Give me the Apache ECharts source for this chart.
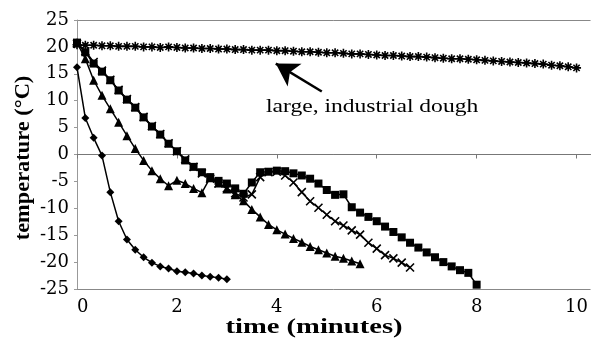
<!DOCTYPE html>
<html>
<head>
<meta charset="utf-8">
<script src="https://cdn.jsdelivr.net/npm/echarts@6/dist/echarts.min.js"></script>
<style>
html,body{margin:0;padding:0;background:#fff;}
#chart{width:591px;height:344px;}
</style>
</head>
<body>
<div id="chart"></div>
<script>
// sampling times in seconds (10 s steps)
const seconds = [0,10,20,30,40,50,60,70,80,90,100,110,120,130,140,150,160,170,180,190,200,210,220,230,240,250,260,270,280,290,300,310,320,330,340,350,360,370,380,390,400,410,420,430,440,450,460,470,480,490,500,510,520,530,540,550,560,570,580,590,600];

const xTicks = [0, 2, 4, 6, 8, 10];
const yTicks = [-25, -20, -15, -10, -5, 0, 5, 10, 15, 20, 25];

// diamond series
const diamondTemps = [16.2, 6.8, 3.1, -0.2, -7.0, -12.4, -15.8, -17.7, -19.1, -20.1, -20.8, -21.2, -21.7, -21.9, -22.1, -22.5, -22.7, -22.9, -23.2];

// triangle series
const triangleTemps = [20.8, 17.8, 13.8, 11.0, 8.5, 6.0, 3.5, 1.1, -1.1, -3.0, -4.5, -5.8, -4.8, -5.4, -6.3, -7.1, -4.3, -5.3, -6.4, -7.5, -8.6, -10.2, -11.6, -13.0, -14.0, -14.8, -15.6, -16.3, -17.1, -17.7, -18.3, -18.9, -19.3, -19.8, -20.3];

// cross series
const crossTemps = [20.6, 19.2, 17.2, 15.6, 13.9, 12.0, 10.3, 8.8, 7.0, 5.3, 3.8, 2.1, 0.6, -0.9, -2.3, -3.5, -4.5, -5.4, -6.3, -7.2, -8.0, -7.4, -4.2, -3.3, -3.2, -3.9, -5.2, -7.0, -8.7, -9.9, -11.2, -12.4, -13.2, -14.1, -14.9, -16.4, -17.5, -18.7, -19.3, -20.1, -21.0];

// square series
const squareTemps = [20.8, 19.0, 16.9, 15.4, 13.8, 11.9, 10.2, 8.7, 6.9, 5.2, 3.7, 2.0, 0.6, -1.1, -2.3, -3.3, -4.2, -4.9, -5.4, -6.3, -7.3, -5.2, -3.3, -3.2, -3.0, -3.1, -3.5, -3.9, -4.5, -5.4, -6.6, -7.5, -7.4, -9.8, -10.8, -11.6, -12.4, -13.4, -14.4, -15.4, -16.4, -17.3, -18.2, -19.1, -20.0, -20.8, -21.5, -22.0, -24.2];

// large, industrial dough (star series)
const starTemps = [20.4, 20.3, 20.3, 20.2, 20.2, 20.1, 20.1,
  20.1, 20.0, 20.0, 19.9, 20.0, 19.9,
  19.8, 19.8, 19.7, 19.7, 19.6, 19.6,
  19.5, 19.5, 19.4, 19.4, 19.4, 19.3,
  19.3, 19.2, 19.1, 19.1, 19.0, 18.9,
  18.9, 18.8, 18.7, 18.7, 18.6, 18.5,
  18.4, 18.4, 18.3, 18.2, 18.2, 18.1,
  18.0, 17.9, 17.8, 17.8, 17.7, 17.6,
  17.5, 17.4, 17.3, 17.2, 17.1, 17.0,
  16.9, 16.8, 16.6, 16.5, 16.3, 16.1];

const annotationText = 'large, industrial dough';
const arrowTail = [4.9, 11.7];
const arrowTip = [3.98, 16.9];

function pairs(temps) {
  return temps.map((v, i) => [seconds[i] / 60, v]);
}

const FONT = '"Liberation Serif", "Times New Roman", serif';
const TICKFONT = '"DejaVu Serif", serif';
const xPath = 'path://M0,0L10,10M10,0L0,10';
const starPath = 'path://M5,0L5,10M0,5L10,5M1.5,1.5L8.5,8.5M8.5,1.5L1.5,8.5';

function lineSeries(name, temps, symbol, size, stroked) {
  return {
    name: name,
    type: 'line',
    data: pairs(temps),
    symbol: symbol,
    symbolSize: size,
    showAllSymbol: true,
    animation: false,
    lineStyle: { color: '#000', width: 1.5 },
    itemStyle: stroked
      ? { color: 'rgba(0,0,0,0)', borderColor: '#000', borderWidth: 1.6 }
      : { color: '#000', borderWidth: 0 },
    z: 3
  };
}

const chart = echarts.init(document.getElementById('chart'));
const series = [
  lineSeries('diamond', diamondTemps, 'diamond', 8, false),
  lineSeries('triangle', triangleTemps, 'triangle', 9, false),
  lineSeries('cross', crossTemps, xPath, 8, true),
  lineSeries('square', squareTemps, 'rect', 8, false),
  lineSeries('star', starTemps, starPath, 9, true)
];
series[4].markLine = {
  silent: true,
  symbol: ['none', 'arrow'],
  symbolSize: [20, 22],
  label: { show: false },
  lineStyle: { color: '#000', width: 2.5, type: 'solid' },
  data: [[{ coord: arrowTail }, { coord: arrowTip }]],
  animation: false
};

chart.setOption({
  animation: false,
  backgroundColor: '#fff',
  grid: { left: 77, right: 0, top: 20, bottom: 55 },
  xAxis: {
    type: 'value',
    min: 0,
    max: 10.28,
    interval: 2,
    axisLine: { lineStyle: { color: '#777', width: 1 } },
    axisTick: { show: true, inside: false, length: 4, lineStyle: { color: '#777' } },
    splitLine: { show: false },
    axisLabel: {
      color: '#000', fontFamily: TICKFONT, fontSize: 18, margin: 9,
      formatter: v => (xTicks.indexOf(v) >= 0 ? String(v) : ''),
      alignMinLabel: 'left', showMaxLabel: false
    }
  },
  yAxis: [{
    type: 'value',
    min: -25,
    max: 25,
    interval: 5,
    axisLine: { show: true, lineStyle: { color: '#999', width: 1 } },
    axisTick: { show: true, length: 3, lineStyle: { color: '#999' } },
    splitLine: { show: false },
    axisLabel: {
      color: '#000', fontFamily: TICKFONT, fontSize: 18, margin: 8,
      formatter: v => (yTicks.indexOf(v) >= 0 ? String(v) : '')
    }
  }, {
    type: 'value',
    min: -25,
    max: 25,
    interval: 25,
    position: 'left',
    axisLine: { show: false },
    axisTick: { show: false },
    axisLabel: { show: false },
    splitLine: { show: true, lineStyle: { color: '#888', width: 1 } }
  }],
  graphic: [
    {
      type: 'text', x: 266, y: 107, scaleX: 1.24,
      style: { text: annotationText, font: '19px ' + FONT, fill: '#000', verticalAlign: 'middle' }
    },
    {
      type: 'text', x: 24, y: 158, rotation: Math.PI / 2, scaleX: 1.12,
      style: { text: 'temperature (°C)', font: 'bold 20px ' + FONT, fill: '#000', align: 'center', verticalAlign: 'middle' }
    },
    {
      type: 'text', x: 314, y: 328, scaleX: 1.43,
      style: { text: 'time (minutes)', font: 'bold 20px ' + FONT, fill: '#000', align: 'center', verticalAlign: 'middle' }
    }
  ],
  series: series
});
</script>
</body>
</html>
